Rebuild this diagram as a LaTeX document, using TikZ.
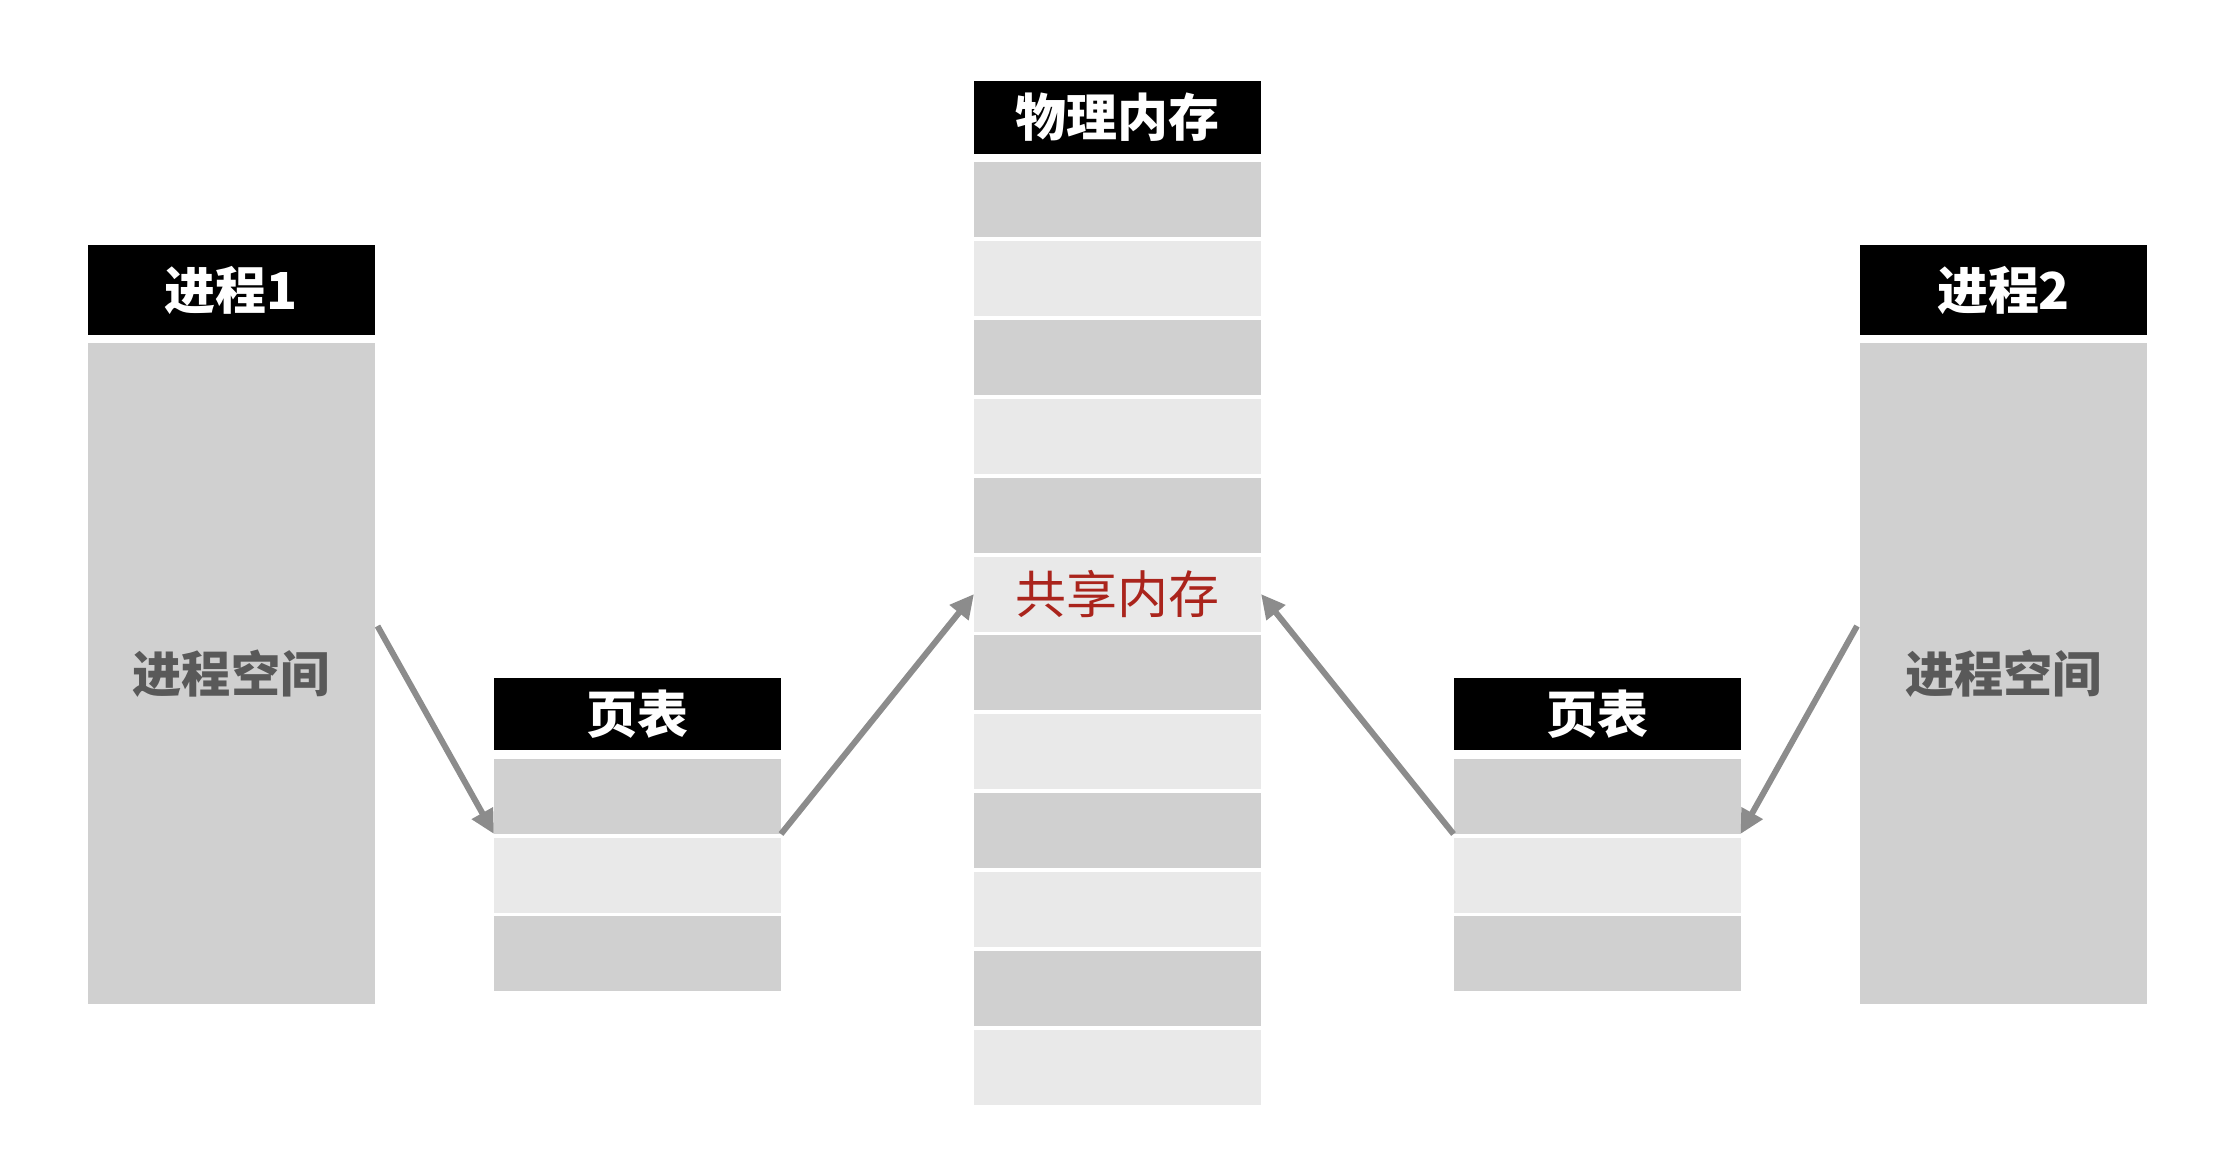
\documentclass[tikz,border=0pt]{standalone}
\usepackage{fontspec}
\newfontfamily\cjk{Noto Sans CJK SC}
\usetikzlibrary{positioning,arrows.meta}
\definecolor{rowdark}{HTML}{D0D0D0}
\definecolor{rowlight}{HTML}{E9E9E9}
\definecolor{spacetext}{HTML}{595959}
\definecolor{sharedred}{RGB}{170,36,28}
\definecolor{arrowgray}{HTML}{8C8C8C}

\begin{document}
\begin{tikzpicture}
[x = 0.1mm, y = -0.1mm, every node/.style = {outer sep = 0pt},
head/.style = {fill = black, text = white, font = \cjk\bfseries\fontsize{14.5}{16}\selectfont,
  minimum width = 28.7mm, minimum height = 7.3mm, inner sep = 0pt},
dark/.style = {fill = rowdark, minimum width = 28.7mm, minimum height = 7.5mm, inner sep = 0pt},
light/.style = {fill = rowlight, minimum width = 28.7mm, minimum height = 7.5mm, inner sep = 0pt},
space/.style = {fill = rowdark, text = spacetext, font = \cjk\bfseries\fontsize{14}{16}\selectfont,
  minimum width = 28.7mm, minimum height = 66.1mm, inner sep = 0pt},
link/.style = {draw = arrowgray, line width = 0.6mm, -{Triangle[length = 2.4mm, width = 2.3mm]}},
]
\useasboundingbox (0,0) rectangle (2232,1150);
% process 1
\node [head, minimum height = 9mm, anchor = north] (p1head) at (231,245) {进程1};
\node [space, below = 0.8mm of p1head] (p1body) {进程空间};
% page table 1
\node [head, minimum height = 7.2mm, anchor = north] (pt1head) at (637.5,678) {页表};
\node [dark, below = 0.9mm of pt1head] (pt1r1) {};
\node [light, below = 0.37mm of pt1r1] (pt1r2) {};
\node [dark, below = 0.37mm of pt1r2] (pt1r3) {};
% physical memory
\node [head, anchor = north] (memhead) at (1117.5,81) {物理内存};
\node [dark, below = 0.8mm of memhead] (m1) {};
\foreach \i/\prev/\kind in {2/1/light, 3/2/dark, 4/3/light, 5/4/dark, 6/5/light, 7/6/dark,
  8/7/light, 9/8/dark, 10/9/light, 11/10/dark, 12/11/light}
  \node [\kind, below = 0.39mm of m\prev] (m\i) {};
\node [text = sharedred, font = \cjk\fontsize{14.5}{16}\selectfont] (shared) at (m6) {共享内存};
% page table 2
\node [head, minimum height = 7.2mm, anchor = north] (pt2head) at (1597,678) {页表};
\node [dark, below = 0.9mm of pt2head] (pt2r1) {};
\node [light, below = 0.37mm of pt2r1] (pt2r2) {};
\node [dark, below = 0.37mm of pt2r2] (pt2r3) {};
% process 2
\node [head, minimum height = 9mm, anchor = north] (p2head) at (2003.5,245) {进程2};
\node [space, below = 0.8mm of p2head] (p2body) {进程空间};
% mappings
\draw [link] ([xshift = 0.3mm, yshift = 4.75mm]p1body.east) -- (pt1r1.south west);
\draw [link] (pt1r1.south east) -- (m6.west);
\draw [link] (pt2r1.south west) -- (m6.east);
\draw [link] ([xshift = -0.3mm, yshift = 4.75mm]p2body.west) -- (pt2r1.south east);
\end{tikzpicture}
\end{document}
